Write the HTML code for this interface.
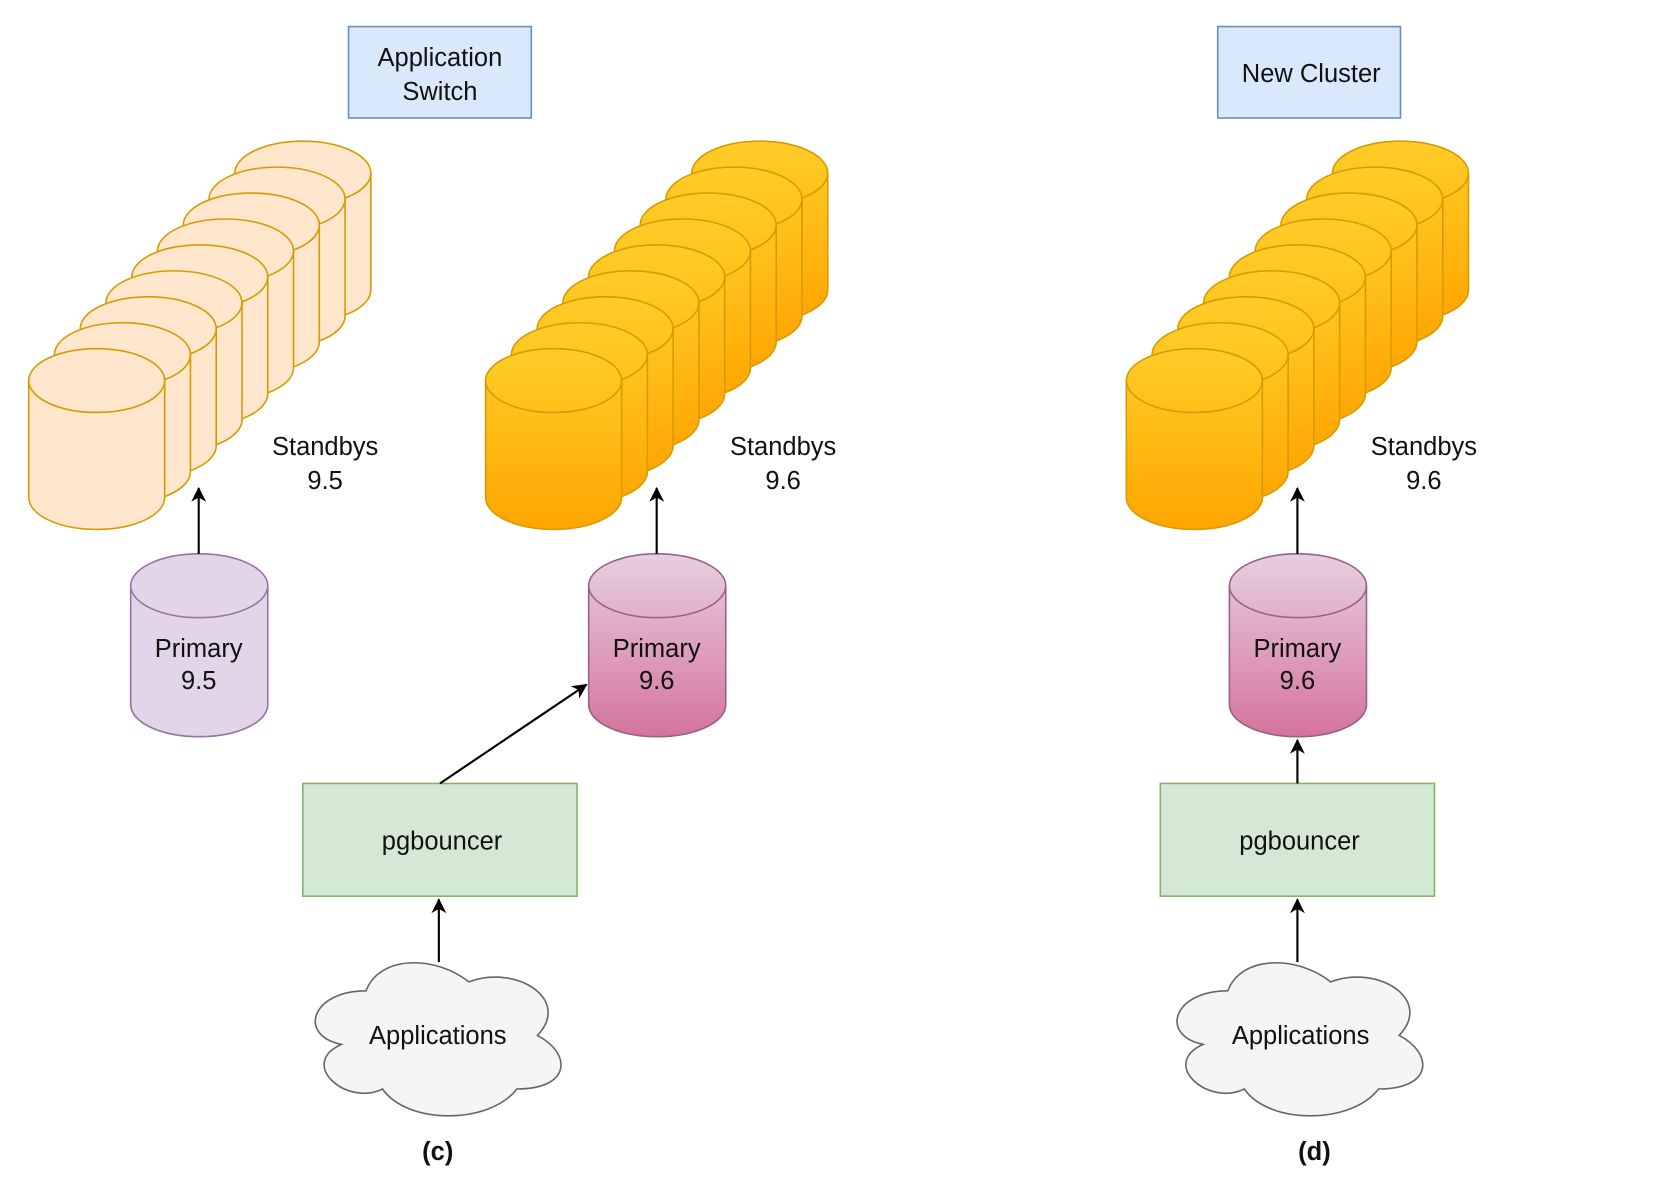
<!DOCTYPE html>
<html><head><meta charset="utf-8"><style>
html,body{margin:0;padding:0;background:#fff;width:1664px;height:1180px;overflow:hidden}
svg{display:block}
text{font-family:"Liberation Sans",sans-serif;fill:#111}
</style></head><body>
<svg width="1664" height="1180" viewBox="0 0 1566 1110" preserveAspectRatio="none" xmlns="http://www.w3.org/2000/svg">
<defs>
<linearGradient id="go" x1="0" y1="0" x2="0" y2="1"><stop offset="0" stop-color="#ffcd28"/><stop offset="1" stop-color="#ffa500"/></linearGradient>
<linearGradient id="gp" x1="0" y1="0" x2="0" y2="1"><stop offset="0" stop-color="#e6d0de"/><stop offset="1" stop-color="#d5739d"/></linearGradient>
<marker id="ar" markerWidth="16" markerHeight="16" refX="13" refY="7" orient="auto" markerUnits="userSpaceOnUse"><path d="M0,0 L14,7 L0,14 L4,7 Z" fill="#000"/></marker>
</defs>
<g id="cyls"></g>

<rect x="328" y="25" width="172" height="86" fill="#dae8fc" stroke="#6c8ebf" stroke-width="1.5"/>
<text x="414" y="62" font-size="24" text-anchor="middle">Application</text>
<text x="414" y="94" font-size="24" text-anchor="middle">Switch</text>
<rect x="1146" y="25" width="172" height="86" fill="#dae8fc" stroke="#6c8ebf" stroke-width="1.5"/>
<text x="1234" y="77" font-size="24" text-anchor="middle">New Cluster</text>

<text x="306" y="428" font-size="24" text-anchor="middle">Standbys</text>
<text x="306" y="460" font-size="24" text-anchor="middle">9.5</text>
<text x="737" y="428" font-size="24" text-anchor="middle">Standbys</text>
<text x="737" y="460" font-size="24" text-anchor="middle">9.6</text>
<text x="1340" y="428" font-size="24" text-anchor="middle">Standbys</text>
<text x="1340" y="460" font-size="24" text-anchor="middle">9.6</text>

<g id="prims"></g>
<text x="187" y="618" font-size="24" text-anchor="middle">Primary</text>
<text x="187" y="648" font-size="24" text-anchor="middle">9.5</text>
<text x="618" y="618" font-size="24" text-anchor="middle">Primary</text>
<text x="618" y="648" font-size="24" text-anchor="middle">9.6</text>
<text x="1221" y="618" font-size="24" text-anchor="middle">Primary</text>
<text x="1221" y="648" font-size="24" text-anchor="middle">9.6</text>

<rect x="285" y="737" width="258" height="106" fill="#d5e8d4" stroke="#82b366" stroke-width="1.5"/>
<text x="416" y="799" font-size="24" text-anchor="middle">pgbouncer</text>
<rect x="1092" y="737" width="258" height="106" fill="#d5e8d4" stroke="#82b366" stroke-width="1.5"/>
<text x="1223" y="799" font-size="24" text-anchor="middle">pgbouncer</text>

<g id="clouds"></g>
<text x="412" y="982" font-size="24" text-anchor="middle">Applications</text>
<text x="1224" y="982" font-size="24" text-anchor="middle">Applications</text>

<g stroke="#000" stroke-width="2" fill="none" marker-end="url(#ar)">
<line x1="187" y1="521" x2="187" y2="459"/>
<line x1="618" y1="521" x2="618" y2="459"/>
<line x1="1221" y1="521" x2="1221" y2="459"/>
<line x1="414" y1="737" x2="552" y2="644"/>
<line x1="1221" y1="737" x2="1221" y2="696"/>
<line x1="413" y1="905" x2="413" y2="846"/>
<line x1="1221" y1="905" x2="1221" y2="846"/>
</g>

<text x="412" y="1091" font-size="24" font-weight="bold" text-anchor="middle">(c)</text>
<text x="1237" y="1091" font-size="24" font-weight="bold" text-anchor="middle">(d)</text>
</svg>
<script>
var NS="http://www.w3.org/2000/svg";
function cyl(g,x,y,w,h,ry,fill,stroke){
  var rx=w/2;
  var p=document.createElementNS(NS,"path");
  p.setAttribute("d","M"+x+","+(y+ry)+" A"+rx+","+ry+" 0 0 1 "+(x+w)+","+(y+ry)+" L"+(x+w)+","+(y+h-ry)+" A"+rx+","+ry+" 0 0 1 "+x+","+(y+h-ry)+" Z");
  p.setAttribute("fill",fill);p.setAttribute("stroke",stroke);p.setAttribute("stroke-width","1.5");
  g.appendChild(p);
  var q=document.createElementNS(NS,"path");
  q.setAttribute("d","M"+x+","+(y+ry)+" A"+rx+","+ry+" 0 0 0 "+(x+w)+","+(y+ry));
  q.setAttribute("fill","none");q.setAttribute("stroke",stroke);q.setAttribute("stroke-width","1.5");
  g.appendChild(q);
}
var g=document.getElementById("cyls");
[[27,"#ffe6cc"],[457,"url(#go)"],[1060,"url(#go)"]].forEach(function(s){
  for(var i=8;i>=0;i--){cyl(g,s[0]+i*24.25,328-i*24.4,128,170,30,s[1],"#d79b00");}
});
var pg=document.getElementById("prims");
cyl(pg,123,521,129,172,30,"#e1d5e7","#9673a6");
cyl(pg,554,521,129,172,30,"url(#gp)","#996185");
cyl(pg,1157,521,129,172,30,"url(#gp)","#996185");
function cloud(g,x,y,w,h){
  function P(a,b){return (x+a*w)+","+(y+b*h);}
  var d="M"+P(.25,.25)+" C"+P(.05,.25)+" "+P(0,.5)+" "+P(.16,.55)+" C"+P(0,.66)+" "+P(.18,.9)+" "+P(.31,.8)+" C"+P(.4,1)+" "+P(.7,1)+" "+P(.8,.8)+" C"+P(1,.8)+" "+P(1,.6)+" "+P(.875,.5)+" C"+P(1,.3)+" "+P(.8,.1)+" "+P(.625,.2)+" C"+P(.5,.05)+" "+P(.3,.05)+" "+P(.25,.25)+" Z";
  var p=document.createElementNS(NS,"path");
  p.setAttribute("d",d);p.setAttribute("fill","#f5f5f5");p.setAttribute("stroke","#666");p.setAttribute("stroke-width","1.5");
  g.appendChild(p);
}
var cg=document.getElementById("clouds");
cloud(cg,280,890,258,168);
cloud(cg,1091,890,258,168);
</script>
</body></html>
